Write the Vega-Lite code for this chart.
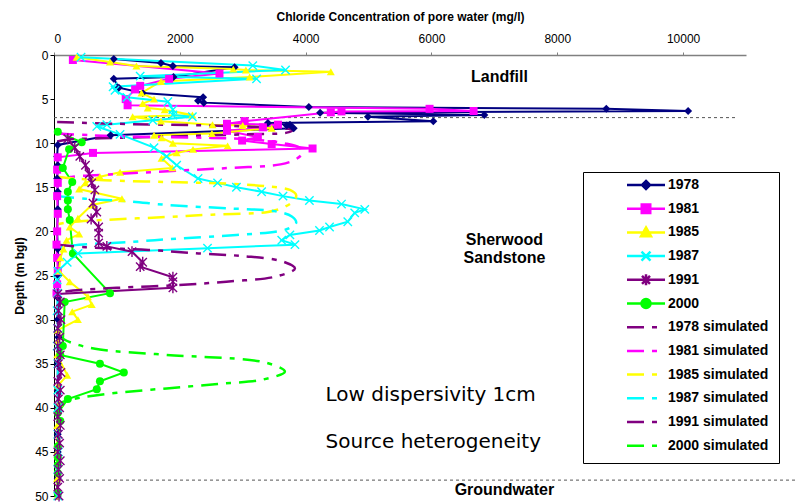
{
  "$schema": "https://vega.github.io/schema/vega-lite/v6.json",
  "width": 692,
  "height": 441,
  "autosize": {"type": "none"},
  "padding": {"left": 54, "top": 55, "right": 57, "bottom": 7},
  "background": "white",
  "config": {"view": {"stroke": null}, "font": "Liberation Sans"},
  "datasets": {
    "prof": [
      {"s":"1978","d":0.45,"c":950},{"s":"1978","d":0.9,"c":1700},{"s":"1978","d":1.25,"c":1890},{"s":"1978","d":1.4,"c":2870},{"s":"1978","d":2.5,"c":1900},{"s":"1978","d":2.7,"c":950},{"s":"1978","d":3.7,"c":1030},{"s":"1978","d":4.3,"c":1410},{"s":"1978","d":4.8,"c":2370},{"s":"1978","d":5.2,"c":2290},{"s":"1978","d":5.4,"c":2380},{"s":"1978","d":5.9,"c":4050},{"s":"1978","d":6.1,"c":8780},{"s":"1978","d":6.35,"c":10080},{"s":"1978","d":6.55,"c":4230},{"s":"1978","d":6.8,"c":6840},{"s":"1978","d":7.0,"c":4990},{"s":"1978","d":7.5,"c":6030},{"s":"1978","d":7.7,"c":3400},{"s":"1978","d":7.9,"c":3750},{"s":"1978","d":8.0,"c":3700},{"s":"1978","d":8.3,"c":3810},{"s":"1978","d":9.1,"c":900},{"s":"1978","d":10.2,"c":60},{"s":"1978","d":11.5,"c":50},{"s":"1978","d":12.5,"c":60},{"s":"1978","d":14,"c":50},{"s":"1978","d":15.5,"c":60},{"s":"1978","d":17.5,"c":60},{"s":"1978","d":20,"c":50},{"s":"1978","d":22,"c":60},{"s":"1978","d":25,"c":70},{"s":"1978","d":27.5,"c":60},{"s":"1978","d":30,"c":60},{"s":"1978","d":32,"c":70},{"s":"1978","d":35,"c":60},{"s":"1978","d":38,"c":60},{"s":"1978","d":40,"c":60},{"s":"1978","d":43,"c":60},{"s":"1978","d":45,"c":60},{"s":"1978","d":48,"c":60},{"s":"1978","d":50,"c":60},
      {"s":"1981","d":0.57,"c":300},{"s":"1981","d":2.1,"c":2630},{"s":"1981","d":2.7,"c":1830},{"s":"1981","d":3.5,"c":1370},{"s":"1981","d":3.9,"c":1290},{"s":"1981","d":5.0,"c":1140},{"s":"1981","d":5.7,"c":1170},{"s":"1981","d":6.1,"c":5970},{"s":"1981","d":6.35,"c":6670},{"s":"1981","d":6.4,"c":4570},{"s":"1981","d":6.5,"c":4400},{"s":"1981","d":7.5,"c":3030},{"s":"1981","d":7.8,"c":2750},{"s":"1981","d":7.9,"c":3560},{"s":"1981","d":8.2,"c":3320},{"s":"1981","d":8.6,"c":2750},{"s":"1981","d":9.3,"c":3240},{"s":"1981","d":9.7,"c":2990},{"s":"1981","d":10.1,"c":3460},{"s":"1981","d":10.6,"c":4110},{"s":"1981","d":11.1,"c":620},{"s":"1981","d":11.6,"c":60},{"s":"1981","d":13,"c":50},{"s":"1981","d":14.5,"c":60},{"s":"1981","d":16,"c":50},{"s":"1981","d":18,"c":60},{"s":"1981","d":20,"c":50},{"s":"1981","d":21.5,"c":40},{"s":"1981","d":23,"c":50},{"s":"1981","d":24.5,"c":60},{"s":"1981","d":26,"c":50},{"s":"1981","d":27,"c":40},
      {"s":"1985","d":0.25,"c":360},{"s":"1985","d":0.8,"c":890},{"s":"1985","d":1.25,"c":1310},{"s":"1985","d":1.6,"c":2850},{"s":"1985","d":1.7,"c":3050},{"s":"1985","d":1.9,"c":4400},{"s":"1985","d":2.5,"c":3110},{"s":"1985","d":3.0,"c":1700},{"s":"1985","d":4.3,"c":1390},{"s":"1985","d":5.0,"c":1590},{"s":"1985","d":5.5,"c":1410},{"s":"1985","d":6.0,"c":1490},{"s":"1985","d":6.2,"c":1760},{"s":"1985","d":6.8,"c":2200},{"s":"1985","d":7.0,"c":1250},{"s":"1985","d":7.5,"c":1700},{"s":"1985","d":7.9,"c":2520},{"s":"1985","d":8.0,"c":3000},{"s":"1985","d":8.3,"c":3460},{"s":"1985","d":8.9,"c":2510},{"s":"1985","d":9.1,"c":1590},{"s":"1985","d":9.4,"c":1710},{"s":"1985","d":10.0,"c":1890},{"s":"1985","d":10.3,"c":2760},{"s":"1985","d":10.7,"c":2210},{"s":"1985","d":11.1,"c":1950},{"s":"1985","d":11.7,"c":1710},{"s":"1985","d":12.8,"c":1880},{"s":"1985","d":13.3,"c":1050},{"s":"1985","d":13.8,"c":730},{"s":"1985","d":14.5,"c":500},{"s":"1985","d":15.2,"c":400},{"s":"1985","d":16.3,"c":1080},{"s":"1985","d":17.0,"c":600},{"s":"1985","d":18.5,"c":380},{"s":"1985","d":19.5,"c":250},{"s":"1985","d":20.3,"c":400},{"s":"1985","d":21.0,"c":200},{"s":"1985","d":22.0,"c":150},{"s":"1985","d":23.0,"c":100},{"s":"1985","d":24.5,"c":80},{"s":"1985","d":25.7,"c":250},{"s":"1985","d":27.4,"c":540},{"s":"1985","d":28.3,"c":600},{"s":"1985","d":29.1,"c":290},{"s":"1985","d":30.0,"c":380},{"s":"1985","d":31.2,"c":60},{"s":"1985","d":32.5,"c":60},{"s":"1985","d":34,"c":50},{"s":"1985","d":36.3,"c":210},{"s":"1985","d":37.5,"c":60},{"s":"1985","d":39.5,"c":80},{"s":"1985","d":40,"c":60},{"s":"1985","d":42,"c":50},{"s":"1985","d":45,"c":50},{"s":"1985","d":48,"c":50},{"s":"1985","d":50,"c":50},
      {"s":"1987","d":0.25,"c":430},{"s":"1987","d":1.2,"c":3160},{"s":"1987","d":1.7,"c":3680},{"s":"1987","d":2.4,"c":1370},{"s":"1987","d":2.7,"c":3220},{"s":"1987","d":3.6,"c":940},{"s":"1987","d":4.0,"c":970},{"s":"1987","d":4.8,"c":1160},{"s":"1987","d":5.3,"c":1810},{"s":"1987","d":6.2,"c":1890},{"s":"1987","d":6.8,"c":1890},{"s":"1987","d":7.0,"c":2200},{"s":"1987","d":7.4,"c":1570},{"s":"1987","d":7.9,"c":840},{"s":"1987","d":8.1,"c":680},{"s":"1987","d":9.0,"c":1050},{"s":"1987","d":10.5,"c":1590},{"s":"1987","d":11.5,"c":1790},{"s":"1987","d":12.5,"c":1950},{"s":"1987","d":14.0,"c":2290},{"s":"1987","d":14.5,"c":2600},{"s":"1987","d":15.0,"c":2900},{"s":"1987","d":15.5,"c":3300},{"s":"1987","d":16.0,"c":3640},{"s":"1987","d":16.5,"c":4060},{"s":"1987","d":16.9,"c":4570},{"s":"1987","d":17.5,"c":4940},{"s":"1987","d":17.9,"c":4780},{"s":"1987","d":18.9,"c":4670},{"s":"1987","d":19.5,"c":4380},{"s":"1987","d":19.9,"c":4220},{"s":"1987","d":20.4,"c":3750},{"s":"1987","d":21.0,"c":3620},{"s":"1987","d":21.5,"c":3830},{"s":"1987","d":21.9,"c":2440},{"s":"1987","d":22.5,"c":380},{"s":"1987","d":23.5,"c":210},{"s":"1987","d":24.5,"c":60},{"s":"1987","d":25.5,"c":50},{"s":"1987","d":27,"c":60},{"s":"1987","d":29,"c":50},{"s":"1987","d":31,"c":60},{"s":"1987","d":33,"c":50},{"s":"1987","d":35,"c":60},{"s":"1987","d":38,"c":60},{"s":"1987","d":40,"c":60},{"s":"1987","d":43,"c":60},{"s":"1987","d":45,"c":70},{"s":"1987","d":47,"c":60},{"s":"1987","d":50,"c":60},
      {"s":"1991","d":9.5,"c":220},{"s":"1991","d":10.5,"c":330},{"s":"1991","d":11.5,"c":410},{"s":"1991","d":12.5,"c":500},{"s":"1991","d":13.5,"c":560},{"s":"1991","d":14.5,"c":600},{"s":"1991","d":15.3,"c":650},{"s":"1991","d":16.8,"c":620},{"s":"1991","d":17.8,"c":680},{"s":"1991","d":18.6,"c":590},{"s":"1991","d":19.5,"c":710},{"s":"1991","d":20.2,"c":710},{"s":"1991","d":21.3,"c":710},{"s":"1991","d":21.7,"c":840},{"s":"1991","d":22.3,"c":1240},{"s":"1991","d":23.5,"c":1410},{"s":"1991","d":24.0,"c":1370},{"s":"1991","d":25.2,"c":1890},{"s":"1991","d":25.7,"c":1890},{"s":"1991","d":26.4,"c":1890},{"s":"1991","d":27.1,"c":60},{"s":"1991","d":28,"c":100},{"s":"1991","d":29,"c":70},{"s":"1991","d":30,"c":110},{"s":"1991","d":31,"c":60},{"s":"1991","d":32,"c":90},{"s":"1991","d":33,"c":60},{"s":"1991","d":34,"c":100},{"s":"1991","d":35,"c":70},{"s":"1991","d":36,"c":110},{"s":"1991","d":37,"c":60},{"s":"1991","d":38,"c":100},{"s":"1991","d":39,"c":70},{"s":"1991","d":40,"c":90},{"s":"1991","d":41,"c":60},{"s":"1991","d":42,"c":100},{"s":"1991","d":43,"c":70},{"s":"1991","d":44,"c":90},{"s":"1991","d":45,"c":60},{"s":"1991","d":46,"c":100},{"s":"1991","d":47,"c":70},{"s":"1991","d":48,"c":90},{"s":"1991","d":49,"c":60},{"s":"1991","d":50,"c":80},
      {"s":"2000","d":8.7,"c":60},{"s":"2000","d":9.9,"c":440},{"s":"2000","d":10.7,"c":240},{"s":"2000","d":12.8,"c":140},{"s":"2000","d":14.4,"c":290},{"s":"2000","d":15.5,"c":220},{"s":"2000","d":16.5,"c":220},{"s":"2000","d":17.5,"c":220},{"s":"2000","d":18.7,"c":250},{"s":"2000","d":22.5,"c":300},{"s":"2000","d":27.0,"c":890},{"s":"2000","d":28.0,"c":170},{"s":"2000","d":33.0,"c":140},{"s":"2000","d":34.0,"c":100},{"s":"2000","d":35.0,"c":730},{"s":"2000","d":36.0,"c":1110},{"s":"2000","d":37.0,"c":730},{"s":"2000","d":37.9,"c":680},{"s":"2000","d":39.0,"c":220},{"s":"2000","d":40.6,"c":60},{"s":"2000","d":41.5,"c":100},{"s":"2000","d":44.4,"c":60},{"s":"2000","d":45.6,"c":60},{"s":"2000","d":46.5,"c":60},{"s":"2000","d":47.4,"c":60},{"s":"2000","d":49.7,"c":60},
      {"s":"1978 simulated","d":7.6,"c":50},{"s":"1978 simulated","d":7.8,"c":1000},{"s":"1978 simulated","d":8.0,"c":2500},{"s":"1978 simulated","d":8.2,"c":3400},{"s":"1978 simulated","d":8.5,"c":3800},{"s":"1978 simulated","d":8.8,"c":3700},{"s":"1978 simulated","d":9.0,"c":3000},{"s":"1978 simulated","d":9.2,"c":2000},{"s":"1978 simulated","d":9.4,"c":1000},{"s":"1978 simulated","d":9.6,"c":200},{"s":"1978 simulated","d":9.8,"c":50},
      {"s":"1981 simulated","d":8.9,"c":50},{"s":"1981 simulated","d":9.1,"c":600},{"s":"1981 simulated","d":9.3,"c":1600},{"s":"1981 simulated","d":9.4,"c":2500},{"s":"1981 simulated","d":9.6,"c":3200},{"s":"1981 simulated","d":10.0,"c":3650},{"s":"1981 simulated","d":10.5,"c":3900},{"s":"1981 simulated","d":11.1,"c":3950},{"s":"1981 simulated","d":11.8,"c":3850},{"s":"1981 simulated","d":12.4,"c":3600},{"s":"1981 simulated","d":12.8,"c":2800},{"s":"1981 simulated","d":13.1,"c":2000},{"s":"1981 simulated","d":13.5,"c":1000},{"s":"1981 simulated","d":13.8,"c":300},{"s":"1981 simulated","d":14.1,"c":50},
      {"s":"1985 simulated","d":13.8,"c":50},{"s":"1985 simulated","d":14.0,"c":300},{"s":"1985 simulated","d":14.2,"c":800},{"s":"1985 simulated","d":14.4,"c":1800},{"s":"1985 simulated","d":14.6,"c":2800},{"s":"1985 simulated","d":14.9,"c":3400},{"s":"1985 simulated","d":15.3,"c":3750},{"s":"1985 simulated","d":15.9,"c":3850},{"s":"1985 simulated","d":16.6,"c":3800},{"s":"1985 simulated","d":17.3,"c":3640},{"s":"1985 simulated","d":17.8,"c":3400},{"s":"1985 simulated","d":18.1,"c":2500},{"s":"1985 simulated","d":18.4,"c":1700},{"s":"1985 simulated","d":18.7,"c":800},{"s":"1985 simulated","d":19.0,"c":200},{"s":"1985 simulated","d":19.2,"c":50},
      {"s":"1987 simulated","d":16.0,"c":50},{"s":"1987 simulated","d":16.3,"c":500},{"s":"1987 simulated","d":16.6,"c":1200},{"s":"1987 simulated","d":17.0,"c":1800},{"s":"1987 simulated","d":17.4,"c":2800},{"s":"1987 simulated","d":17.7,"c":3500},{"s":"1987 simulated","d":18.3,"c":3780},{"s":"1987 simulated","d":19.0,"c":3850},{"s":"1987 simulated","d":19.6,"c":3750},{"s":"1987 simulated","d":20.0,"c":3550},{"s":"1987 simulated","d":20.4,"c":2900},{"s":"1987 simulated","d":20.8,"c":2000},{"s":"1987 simulated","d":21.2,"c":1200},{"s":"1987 simulated","d":21.6,"c":300},{"s":"1987 simulated","d":21.9,"c":50},
      {"s":"1991 simulated","d":21.5,"c":50},{"s":"1991 simulated","d":21.8,"c":500},{"s":"1991 simulated","d":22.1,"c":1500},{"s":"1991 simulated","d":22.5,"c":2300},{"s":"1991 simulated","d":22.8,"c":3000},{"s":"1991 simulated","d":23.4,"c":3630},{"s":"1991 simulated","d":24.2,"c":3830},{"s":"1991 simulated","d":25.1,"c":3540},{"s":"1991 simulated","d":25.7,"c":2740},{"s":"1991 simulated","d":26.1,"c":1950},{"s":"1991 simulated","d":26.4,"c":1000},{"s":"1991 simulated","d":26.7,"c":300},{"s":"1991 simulated","d":27.0,"c":50},
      {"s":"2000 simulated","d":31.5,"c":50},{"s":"2000 simulated","d":32.2,"c":150},{"s":"2000 simulated","d":32.9,"c":400},{"s":"2000 simulated","d":33.4,"c":730},{"s":"2000 simulated","d":34.0,"c":1790},{"s":"2000 simulated","d":34.9,"c":3380},{"s":"2000 simulated","d":35.9,"c":3670},{"s":"2000 simulated","d":36.8,"c":3320},{"s":"2000 simulated","d":37.3,"c":2600},{"s":"2000 simulated","d":37.8,"c":1790},{"s":"2000 simulated","d":38.3,"c":1000},{"s":"2000 simulated","d":38.8,"c":460},{"s":"2000 simulated","d":39.3,"c":150},{"s":"2000 simulated","d":39.8,"c":50}
    ],
    "bounds": [
      {"d": 7.1, "c1": 0, "c2": 10840},
      {"d": 48.2, "c1": 0, "c2": 11800}
    ],
    "regions": [
      {"t": "Landfill", "c": 7080, "d": 2.5},
      {"t": "Sherwood", "c": 7160, "d": 21.0},
      {"t": "Sandstone", "c": 7160, "d": 23.0},
      {"t": "Groundwater", "c": 7160, "d": 49.3}
    ],
    "notes": [
      {"t": "Low dispersivity 1cm", "c": 4317, "d": 38.5},
      {"t": "Source heterogeneity", "c": 4317, "d": 43.9}
    ]
  },
  "layer": [
    {
      "data": {"name": "bounds"},
      "mark": {"type": "rule", "color": "#555555", "strokeWidth": 1, "strokeDash": [3, 3]},
      "encoding": {
        "x": {"field": "c1", "type": "quantitative", "scale": {"domain": [0, 11000], "nice": false},
          "axis": {"orient": "top", "values": [0, 2000, 4000, 6000, 8000, 10000], "format": "d", "grid": false,
            "labelFont": "Liberation Sans", "labelFontSize": 12, "labelColor": "black", "labelPadding": 7,
            "domainColor": "#808080", "domainWidth": 1.5, "tickColor": "#808080", "tickSize": 3,
            "title": "Chloride Concentration of pore water (mg/l)", "titleFont": "Liberation Sans", "titleFontSize": 12,
            "titleFontWeight": "bold", "titleColor": "black", "titlePadding": 9}},
        "x2": {"field": "c2"},
        "y": {"field": "d", "type": "quantitative", "scale": {"domain": [0, 50], "reverse": true, "nice": false},
          "axis": {"values": [0, 5, 10, 15, 20, 25, 30, 35, 40, 45, 50], "grid": false,
            "labelFont": "Liberation Sans", "labelFontSize": 12, "labelColor": "black", "labelPadding": 2,
            "domainColor": "black", "domainWidth": 1, "tickColor": "black", "tickSize": 4,
            "title": "Depth (m bgl)", "titleFont": "Liberation Sans", "titleFontSize": 12,
            "titleFontWeight": "bold", "titleColor": "black", "titlePadding": 8}}
      }
    },
    {
      "data": {"name": "prof"},
      "transform": [{"filter": "indexof(datum.s, 'sim') < 0"}],
      "mark": {"type": "line", "strokeWidth": 2},
      "encoding": {
        "x": {"field": "c", "type": "quantitative"},
        "y": {"field": "d", "type": "quantitative"},
        "order": {"field": "d", "type": "quantitative"},
        "color": {"field": "s", "type": "nominal",
          "scale": {
            "domain": ["1978","1981","1985","1987","1991","2000","1978 simulated","1981 simulated","1985 simulated","1987 simulated","1991 simulated","2000 simulated"],
            "range": ["#000080","#FF00FF","#FFFF00","#00FFFF","#800080","#00FF00","#800080","#FF00FF","#FFFF00","#00FFFF","#800080","#00FF00"]},
          "legend": {
            "title": "\u00a0\u00a0\u00a0\u00a0\u00a0", "titleOrient": "right", "titlePadding": 5,
            "titleFontSize": 14, "titleFontWeight": "bold",
            "orient": "none", "legendX": 529, "legendY": 117,
            "strokeColor": "black", "fillColor": "white", "padding": 6,
            "labelFont": "Liberation Sans", "labelFontSize": 14, "labelFontWeight": "bold", "labelColor": "black",
            "labelLimit": 400,
            "symbolSize": 100, "symbolStrokeWidth": 2, "symbolOffset": 50, "labelOffset": 15, "rowPadding": 1.7,
            "encode": {
              "symbols": {
                "update": {
                  "shape": {"signal": "datum.value === '1978' ? 'M0,-1.1M0,1.1M-3.8,0H3.8M0,-0.8L0.8,0L0,0.8L-0.8,0Z' : datum.value === '1981' ? 'M0,-1.1M0,1.1M-3.8,0H3.8M-0.85,-0.85H0.85V0.85H-0.85Z' : datum.value === '1985' ? 'M0,-1.1M0,1.1M-3.8,0H3.8M0,-1L1,0.75H-1Z' : datum.value === '1987' ? 'M0,-1.1M0,1.1M-3.8,0H3.8M-0.9,-0.9L0.9,0.9M-0.9,0.9L0.9,-0.9' : datum.value === '1991' ? 'M0,-1.1M0,1.1M-3.8,0H3.8M-0.8,-0.8L0.8,0.8M-0.8,0.8L0.8,-0.8M0,-1.1V1.1' : datum.value === '2000' ? 'M0,-1.1M0,1.1M-3.8,0H3.8M-0.9,0A0.9,0.9,0,1,0,0.9,0A0.9,0.9,0,1,0,-0.9,0Z' : 'M0,-1.1M0,1.1M-3.8,0H-0.4M1.2,0H2.2'"},
                  "fill": {"signal": "datum.value === '1978' ? '#000080' : datum.value === '1981' ? '#FF00FF' : datum.value === '1985' ? '#FFFF00' : datum.value === '2000' ? '#00FF00' : 'transparent'"},
                  "strokeWidth": {"value": 2.5}
                }
              }
            }
          }}
      }
    },
    {
      "data": {"name": "prof"},
      "transform": [{"filter": "indexof(datum.s, 'sim') >= 0"}],
      "mark": {"type": "line", "strokeWidth": 2.5, "interpolate": "catmull-rom", "strokeDash": [17, 8, 5, 8]},
      "encoding": {
        "x": {"field": "c", "type": "quantitative"},
        "y": {"field": "d", "type": "quantitative"},
        "order": {"field": "d", "type": "quantitative"},
        "color": {"field": "s", "type": "nominal"}
      }
    },
    {
      "data": {"name": "prof"},
      "transform": [{"filter": "datum.s === '1978' || datum.s === '1981' || datum.s === '1985' || datum.s === '2000'"}],
      "mark": {"type": "point", "filled": true, "opacity": 1, "size": 64},
      "encoding": {
        "x": {"field": "c", "type": "quantitative"},
        "y": {"field": "d", "type": "quantitative"},
        "color": {"field": "s", "type": "nominal"},
        "shape": {"field": "s", "type": "nominal", "legend": null,
          "scale": {"domain": ["1978","1981","1985","1987","1991","2000"],
            "range": ["diamond","square","triangle-up","M-1,-1L1,1M-1,1L1,-1","M-1,-1L1,1M-1,1L1,-1M0,-1.3V1.3","circle"]}}
      }
    },
    {
      "data": {"name": "prof"},
      "transform": [{"filter": "datum.s === '1987' || datum.s === '1991'"}],
      "mark": {"type": "point", "filled": false, "opacity": 1, "size": 70, "strokeWidth": 1.4},
      "encoding": {
        "x": {"field": "c", "type": "quantitative"},
        "y": {"field": "d", "type": "quantitative"},
        "color": {"field": "s", "type": "nominal"},
        "shape": {"field": "s", "type": "nominal", "legend": null}
      }
    },
    {
      "data": {"name": "regions"},
      "mark": {"type": "text", "font": "Liberation Sans", "fontSize": 16, "fontWeight": "bold", "color": "black", "align": "center", "baseline": "middle"},
      "encoding": {
        "x": {"field": "c", "type": "quantitative"},
        "y": {"field": "d", "type": "quantitative"},
        "text": {"field": "t"}
      }
    },
    {
      "data": {"name": "notes"},
      "mark": {"type": "text", "font": "DejaVu Sans", "fontSize": 20, "color": "black", "align": "left", "baseline": "middle"},
      "encoding": {
        "x": {"field": "c", "type": "quantitative"},
        "y": {"field": "d", "type": "quantitative"},
        "text": {"field": "t"}
      }
    }
  ]
}
